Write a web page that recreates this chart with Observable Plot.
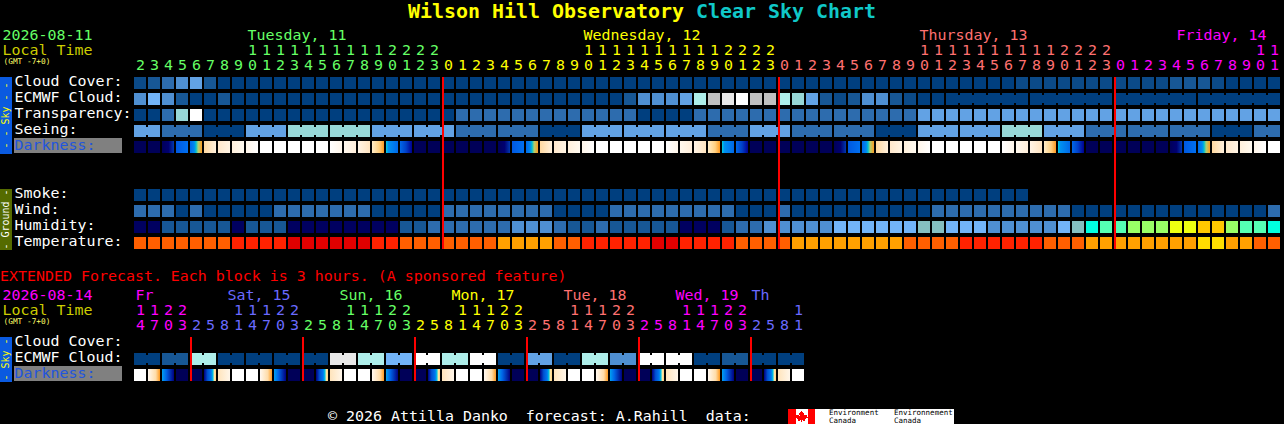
<!DOCTYPE html>
<html>
<head>
<meta charset="utf-8">
<script src="https://cdn.jsdelivr.net/npm/d3@7"></script>
<script src="https://cdn.jsdelivr.net/npm/@observablehq/plot@0.6"></script>
<style>
  html, body { margin: 0; padding: 0; background: #000; width: 1284px; height: 424px; overflow: hidden; }
  body { font-family: "DejaVu Sans Mono", monospace; font-size: 14.95px; color: #fff; position: relative; }
  #title { height: 26px; line-height: 24px; text-align: center; font-size: 19.93px; font-weight: bold; white-space: pre; }
  #title .a { color: #ffff00; } #title .b { color: #10c8c8; }
  #ext { height: 21px; line-height: 23px; color: #ff0000; white-space: pre; }
  svg { display: block; shape-rendering: crispEdges; }
  svg text { shape-rendering: auto; }
  #footer { position: absolute; left: 0; top: 400px; width: 1284px; height: 24px; }
  #credit { position: absolute; left: 328px; top: 7px; line-height: 18px; white-space: pre; }
  #logo { position: absolute; left: 788px; top: 9px; width: 166px; height: 15px; background: #fff; }
  #logo svg { position: absolute; left: 0; top: 0; }
  #logo span { position: absolute; color: #000; font-size: 7.5px; line-height: 7px; white-space: pre; }
</style>
</head>
<body>
<div id="title"><span class="a">Wilson Hill Observatory </span><span class="b">Clear Sky Chart</span></div>
<div id="chart1"></div>
<div id="ext">EXTENDED Forecast. Each block is 3 hours. (A sponsored feature)</div>
<div id="chart2"></div>
<div id="footer">
  <div id="credit">© 2026 Attilla Danko  forecast: A.Rahill  data:</div>
  <div id="logo">
    <svg width="27" height="15" viewBox="0 0 27 15"><rect x="0" width="7.5" height="15" fill="#f00"/><rect x="19.5" width="7.5" height="15" fill="#f00"/><path fill="#f00" d="M13.5 1.5l1.5 2.6 1-.5-.4 3 1.6-1.4.4 1 2-.3-.6 2 .8.5-3 2.4.3 1-3-.4v2h-1v-2l-3 .4.3-1-3-2.4.8-.5-.6-2 2 .3.4-1 1.6 1.4-.4-3 1 .5z"/></svg>
    <span style="left:41px;top:0">Environment</span><span style="left:41px;top:8px">Canada</span>
    <span style="left:106px;top:0">Environnement</span><span style="left:106px;top:8px">Canada</span>
  </div>
</div>
<script>
// ---------- colours ----------
const skyColors = [
  "#003f7f", "#0b4a88", "#175795", "#2d6cae", "#4f8fd1", "#62a2e4", "#72b4f8", // 0-6 blues
  "#97d7d7", "#85bfc0", "#aeeeea", "#c0c0c0", "#e8e8e8", "#ffffff",             // 7-12 pale
  "#000060", "#00ffe0", "#55ffb4", "#99ff66", "#eeff11", "#ffc800",             // 13-18 humidity
  "#e00000", "#ff2200", "#ff5f00", "#ffa000", "#ffdd00"                         // 19-23 temperature
];
const darknessStops = [
  [[0, "#000058"], [1, "#000058"]],
  [[0, "#00005a"], [0.55, "#000070"], [1, "#0038b0"]],
  [[0, "#0058e0"], [1, "#0070f0"]],
  [[0, "#0068e8"], [0.35, "#0088f0"], [0.5, "#00c0d0"], [0.68, "#b0d070"], [1, "#ff9a20"]],
  [[0, "#ffd8a0"], [1, "#fff0dc"]],
  [[0, "#ffe8cc"], [1, "#fff4e4"]],
  [[0, "#fff0dc"], [1, "#fffaf0"]],
  [[0, "#fff6ea"], [1, "#ffffff"]],
  [[0, "#ffffff"], [1, "#ffffff"]],
  [[0, "#ffffff"], [1, "#fff6ea"]],
  [[0, "#fff8ee"], [1, "#ffeeda"]],
  [[0, "#fff4e6"], [1, "#ffe4c0"]],
  [[0, "#ffecc8"], [0.6, "#ffd080"], [1, "#ff9a20"]],
  [[0, "#00d0e0"], [0.2, "#0090f0"], [1, "#0068e8"]],
  [[0, "#0068e8"], [0.5, "#0040c8"], [1, "#000090"]],
  [[0, "#fff8f0"], [0.65, "#ffdca8"], [1, "#ff9a20"]],
  [[0, "#00a0f0"], [0.35, "#0066e8"], [0.6, "#0040c0"], [1, "#000080"]],
  [[0, "#000080"], [0.3, "#0050d0"], [0.6, "#0078f0"], [0.75, "#00c8e0"], [0.85, "#ffe8a8"], [1, "#ffd080"]],
  [[0, "#ffe4bc"], [1, "#fff6ea"]]
];

// ---------- detailed forecast (hourly) ----------
const hours = [2,3,4,5,6,7,8,9,10,11,12,13,14,15,16,17,18,19,20,21,22,23,
  0,1,2,3,4,5,6,7,8,9,10,11,12,13,14,15,16,17,18,19,20,21,22,23,
  0,1,2,3,4,5,6,7,8,9,10,11,12,13,14,15,16,17,18,19,20,21,22,23,
  0,1,2,3,4,5,6,7,8,9,10,11];
const hourDays = [22, 24, 24, 12];
const dayColors = ["#66ff66", "#ffff00", "#ff7070", "#ff00ff"];

const cloudCover = [1,2,3,4,5,2,0,0,0,0, 0,0,0,0,0,0,0,0,0,0, 0,0,0,0,0,0,0,0,0,0, 0,0,0,0,0,0,0,0,0,0,
  0,0,0,0,0,0,0,0,0,0, 0,0,0,0,0,0,0,0,0,0, 0,0,0,1,1,1,1,1,1,1, 1,1,1,1,2,2,2,1,0,0, 0,0];
const ecmwfCloud = [4,6,4,2,0,0,2,0,0,0, 0,0,0,0,0,0,0,0,0,0, 0,0,0,0,0,0,0,0,0,0, 0,0,0,0,0,2,4,4,4,5,
  9,10,11,12,10,10,9,7,5,2, 1,2,4,4,2,1,0,0,0,0, 0,0,0,0,0,0,0,0,0,0, 0,0,0,0,0,0,0,0,0,0, 0,0];
const ecmwfBlocks = [1,1,1,1,1,1,1,1,1,1, 1,1,1,1,1,1,1,1,1,1, 1,1,1,1,1,1,1,1,1,1, 1,1,1,1,1,1,1,1,1,1,
  1,1,1,1,1,1,1,1,1,1, 1,1,1,1,1,1,1,1, 6,6,6,6];
const transparency = [0,0,3,7,12,0,0,0,0,0, 0,0,0,0,0,0,0,0,0,0, 0,0,0,3,3,3,3,3,3,3,
  3,3,3,3,3,3,0,0,0,0, 3,3,3,3,3,3,3,3,3,3, 3,3,3,3,3,3,5,5,5,5, 5,5,5,5,5,5,5,5,5,5, 5,5,5,5,5,5,5,5,5,5, 5,5];
const seeingValues = [5,3,0,5,7,7,5,5,3,3,0,5,5,5,3,5,3,3,0,5,5,7,5,3,3,3,0,3];
const seeingBlocks = [2,3,3,3,3,3,3,3,3,3,3,3,3,3,3,3,3,3,3,3,3,3,3,3,3,3,3,2];
const darkness = [0,0,1,2,3,4,5,6,7,8,8,8,8,8,9,10,11,12,13,14,0,0,
  0,0,0,0,1,2,3,4,5,6,7,8,8,8,8,8,9,10,11,12,13,14,0,0,
  0,0,0,0,1,2,3,4,5,6,7,8,8,8,8,8,9,10,11,12,13,14,0,0,
  0,0,0,0,1,2,3,4,5,6,7,8];
const smoke = [0,0,0,0,0,0,0,0,0,0, 0,0,0,0,0,0,0,0,0,0, 0,0,0,0,0,0,0,0,0,0, 0,0,0,0,0,0,0,0,0,0,
  0,0,0,0,0,0,0,0,0,0, 0,0,0,0,0,0,0,0,0,0, 0,0,0,0];
const wind = [3,3,3,0,3,0,0,0,0,0, 3,3,3,3,3,3,3,0,0,0, 0,0,3,3,3,3,3,3,3,3,
  0,0,0,0,3,3,3,3,3,3, 3,3,3,0,0,0,3,0,0,0, 0,0,0,0,0,0,0,3,3,3, 3,3,3,3,3,3,3,0,0,0,
  0,0,0,0,0,0,0,0,0,0, 0,3];
const humidity = [13,13,2,2,2,2,2,13,2,2, 2,13,13,13,13,13,13,13,13,2, 2,3,3,3,3,3,3,4,4,4,
  3,2,2,3,2,2,2,2,2,13, 13,13,2,3,3,4,4,4,4,4, 6,6,6,6,6,6,8,8,6,6, 6,4,4,4,4,4,6,8,14,15,
  15,16,16,16,17,17,18,18,16,15, 15,14];
const temperature = [21,21,21,21,21,21,21,20,20,20, 20,19,19,19,19,19,19,20,20,21, 21,21,21,21,21,21,22,22,22,22,
  21,21,20,20,20,20,20,19,19,20, 20,20,20,21,21,21,21,22,22,22, 22,22,22,22,22,21,21,21,21,20,
  20,20,20,20,20,21,21,21,22,22, 22,22,22,22,22,22,23,23,22,22, 21,21];

// ---------- extended forecast (3-hourly) ----------
const extHours = [14,17,20,23, 2,5,8,11,14,17,20,23, 2,5,8,11,14,17,20,23, 2,5,8,11,14,17,20,23,
  2,5,8,11,14,17,20,23, 2,5,8,11,14,17,20,23, 2,5,8,11];
const extDays = [4, 8, 8, 8, 8, 8, 4];
const extDayColors = ["#ff00ff", "#6a6aff", "#66ff66", "#ffff00", "#ff7070", "#ff00ff", "#6a6aff"];
const extEcmwfValues = [0,2,9,0,0,0,0,11,9,6,12,9,12,0,5,0,9,4,12,12,0,2,0,0];
const extEcmwfBlocks = [2,2,2,2,2,2,2,2,2,2,2,2,2,2,2,2,2,2,2,2,2,2,2,2];
const extDarkness = [8,15,16,0, 0,17,18,8,8,15,16,0, 0,17,18,8,8,15,16,0, 0,17,18,8,8,15,16,0,
  0,17,18,8,8,15,16,0, 0,17,18,8,8,15,16,0, 0,17,18,8];

// ---------- labels ----------
const topRows = ["Cloud Cover:", "ECMWF Cloud:", "Transparency:", "Seeing:", "Darkness:", " ", "  ",
  "Smoke:", "Wind:", "Humidity:", "Temperature:"];
const extRows = ["Cloud Cover:", "ECMWF Cloud:", "Darkness:"];
const topDayLabels = [["Tuesday, 11", 8, -5, 0], ["Wednesday, 12", 32, -5, 1], ["Thursday, 13", 56, -5, 2], ["Friday, 14", 74, 0, 3]];
const extDayLabels = [["Fr", 0, -5, 0], ["Sat, 15", 6, 3, 1], ["Sun, 16", 14, 3, 2], ["Mon, 17", 22, 3, 3],
  ["Tue, 18", 30, 3, 4], ["Wed, 19", 38, 3, 5], ["Th", 44, -5, 6]];
const topMidnights = [22, 46, 70];
const extMidnights = [4, 12, 20, 28, 36, 44];
const allCols = d3.range(82);

const FONT = '"DejaVu Sans Mono", monospace';
const FS = 14.95;

function expand(values, blocks) {
  return blocks.flatMap((n, i) => Array(n).fill(values[i]));
}
function cellsFor(row, values) {
  return values.map((v, col) => ({row, col, fill: skyColors[v]}));
}
function bridgesFor(row, values, blocks) {
  const out = [];
  let s = 0;
  for (const n of blocks) {
    for (let c = s; c < s + n - 1; c++) out.push({row, col: c, fill: skyColors[values[c]]});
    s += n;
  }
  return out;
}
function darkCells(values) {
  return values.map((v, col) => ({row: "Darkness:", col, fill: `url(#dark${v})`}));
}
function gradientDefs() {
  const defs = d3.create("svg:defs");
  darknessStops.forEach((stops, i) => {
    const g = defs.append("linearGradient").attr("id", `dark${i}`).attr("x1", 0).attr("x2", 1).attr("y1", 0).attr("y2", 0);
    for (const [o, c] of stops) g.append("stop").attr("offset", o).attr("stop-color", c);
  });
  return defs.node();
}
function sideBar(first, last, fill, color, label) {
  return (index, {y}) => {
    const top = y(first), bottom = y(last) + 12;
    const g = d3.create("svg:g");
    g.append("rect").attr("x", 0).attr("y", top).attr("width", 12).attr("height", bottom - top + 1).attr("fill", fill);
    g.append("text").attr("transform", `translate(6,${(top + bottom) / 2 + 0.5}) rotate(-90)`)
      .attr("text-anchor", "middle").attr("dy", "0.33em").attr("fill", color)
      .style("font-family", FONT).style("font-size", "10px").style("white-space", "pre").text(label);
    return g.node();
  };
}
function hourAxes(hrs, days, colors) {
  const marks = [];
  let s = 0;
  days.forEach((n, d) => {
    const cols = d3.range(s, s + n);
    marks.push(Plot.axisX(cols, {anchor: "top", tickSize: 0, tickPadding: 8, label: null, fontSize: FS,
      fill: colors[d], tickFormat: (i) => String(hrs[i] % 10)}));
    const tens = cols.filter((i) => hrs[i] >= 10);
    if (tens.length) marks.push(Plot.axisX(tens, {anchor: "top", tickSize: 0, tickPadding: 23, label: null, fontSize: FS,
      fill: colors[d], tickFormat: (i) => String(Math.floor(hrs[i] / 10))}));
    s += n;
  });
  return marks;
}
function makeChart({rows, height, marginBottom, cells, bridges, dark, midnights, dayLabels, dayPalette, hrs, days, date, dateColor, bars}) {
  const labelRows = rows.filter((r) => r.trim() && r !== "Darkness:");
  return Plot.plot({
    width: 1284, height, marginTop: 51, marginBottom, marginLeft: 134, marginRight: 4,
    style: {background: "#000", color: "#fff", fontFamily: FONT, fontSize: FS + "px"},
    x: {type: "band", domain: allCols, paddingInner: 2 / 14, paddingOuter: 0, align: 0, round: false, axis: null},
    y: {type: "band", domain: rows, paddingInner: 0.25, paddingOuter: 0, align: 0, round: false, axis: null},
    color: {type: "identity"},
    marks: [
      gradientDefs,
      ...bars,
      Plot.cell(["Darkness:"], {y: (d) => d, fill: "#808080", insetLeft: -120, insetRight: 1158, insetTop: -3, insetBottom: 0}),
      Plot.axisY(labelRows, {anchor: "left", tickSize: 0, tickPadding: 120, textAnchor: "start", fontSize: FS, fill: "#fff", dy: -2, label: null}),
      Plot.axisY(["Darkness:"], {anchor: "left", tickSize: 0, tickPadding: 120, textAnchor: "start", fontSize: FS, fill: "#2255dd", dy: -2, label: null}),
      Plot.cell(cells, {x: "col", y: "row", fill: "fill"}),
      Plot.cell(bridges, {x: "col", y: "row", fill: "fill", dx: 7, insetLeft: 5, insetRight: 5, insetTop: 2, insetBottom: 2}),
      Plot.cell(dark, {x: "col", y: "row", fill: "fill"}),
      Plot.ruleX(midnights, {x: (d) => d, stroke: "#ff0000", strokeWidth: 2, dx: -6}),
      ...hourAxes(hrs, days, dayPalette),
      ...dayLabels.map(([text, col, dx, c]) => Plot.text([text], {x: () => col, text: (d) => d, frameAnchor: "top", dy: -38,
        dx, textAnchor: "start", lineAnchor: "bottom", fontSize: FS, fill: dayPalette[c]})),
      Plot.text([date], {text: (d) => d, frameAnchor: "top-left", dx: -132, dy: -38, textAnchor: "start", lineAnchor: "bottom", fontSize: FS, fill: dateColor}),
      Plot.text(["Local Time"], {text: (d) => d, frameAnchor: "top-left", dx: -132, dy: -23, textAnchor: "start", lineAnchor: "bottom", fontSize: FS, fill: "#cccc00"}),
      Plot.text(["(GMT -7+0)"], {text: (d) => d, frameAnchor: "top-left", dx: -131, dy: -19, textAnchor: "start", lineAnchor: "top", fontSize: 7.8, fill: "#ffff66"})
    ]
  });
}

const seeing = expand(seeingValues, seeingBlocks);
const chart1 = makeChart({
  rows: topRows, height: 239, marginBottom: 16,
  cells: [
    ...cellsFor("Cloud Cover:", cloudCover), ...cellsFor("ECMWF Cloud:", ecmwfCloud),
    ...cellsFor("Transparency:", transparency), ...cellsFor("Seeing:", seeing),
    ...cellsFor("Smoke:", smoke), ...cellsFor("Wind:", wind),
    ...cellsFor("Humidity:", humidity), ...cellsFor("Temperature:", temperature)
  ],
  bridges: [...bridgesFor("ECMWF Cloud:", ecmwfCloud, ecmwfBlocks), ...bridgesFor("Seeing:", seeing, seeingBlocks)],
  dark: darkCells(darkness), midnights: topMidnights, dayLabels: topDayLabels, dayPalette: dayColors,
  hrs: hours, days: hourDays, date: "2026-08-11", dateColor: "#66ff66",
  bars: [sideBar("Cloud Cover:", "Darkness:", "#0a5ae0", "#ffff00", "- - Sky - -"),
         sideBar("Smoke:", "Temperature:", "#556b00", "#ffffff", "- Ground -")]
});
const extEcmwf = expand(extEcmwfValues, extEcmwfBlocks);
const chart2 = makeChart({
  rows: extRows, height: 114, marginBottom: 19,
  cells: cellsFor("ECMWF Cloud:", extEcmwf),
  bridges: bridgesFor("ECMWF Cloud:", extEcmwf, extEcmwfBlocks),
  dark: darkCells(extDarkness), midnights: extMidnights, dayLabels: extDayLabels, dayPalette: extDayColors,
  hrs: extHours, days: extDays, date: "2026-08-14", dateColor: "#ff00ff",
  bars: [sideBar("Cloud Cover:", "Darkness:", "#0a5ae0", "#ffff00", "- Sky -")]
});
document.getElementById("chart1").append(chart1);
document.getElementById("chart2").append(chart2);
</script>
</body>
</html>
